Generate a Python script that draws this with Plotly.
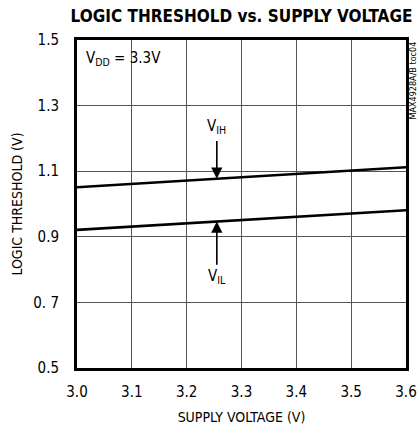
import numpy as np
import plotly.graph_objects as go

supply_v = [3.0, 3.6]
vih = [1.051, 1.112]
vil = [0.921, 0.981]
x_ticks = [3.0, 3.1, 3.2, 3.3, 3.4, 3.5, 3.6]
y_ticks = [0.5, 0.7, 0.9, 1.1, 1.3, 1.5]
y_tick_labels = ["0.5", "0. 7", "0.9", "1.1", "1.3", "1.5"]

FONT = "DejaVu Sans Condensed, Roboto, sans-serif"

fig = go.Figure()
fig.add_trace(go.Scatter(x=supply_v, y=vih, mode="lines",
                         line=dict(color="black", width=2.6), showlegend=False))
fig.add_trace(go.Scatter(x=supply_v, y=vil, mode="lines",
                         line=dict(color="black", width=2.6), showlegend=False))

arrow_x = 3.255
tip_ih = float(np.interp(arrow_x, supply_v, vih))
tip_il = float(np.interp(arrow_x, supply_v, vil))

annotations = [
    dict(x=arrow_x, y=tip_ih, xref="x", yref="y", ax=arrow_x, ay=1.197,
         axref="x", ayref="y", text="", showarrow=True, arrowhead=2,
         arrowsize=1.4, arrowwidth=1.6, arrowcolor="black", standoff=0),
    dict(x=arrow_x, y=1.235, xref="x", yref="y", text="V<sub>IH</sub>",
         showarrow=False, font=dict(family=FONT, size=15, color="black")),
    dict(x=arrow_x, y=tip_il, xref="x", yref="y", ax=arrow_x, ay=0.81,
         axref="x", ayref="y", text="", showarrow=True, arrowhead=2,
         arrowsize=1.4, arrowwidth=1.6, arrowcolor="black", standoff=0),
    dict(x=arrow_x, y=0.78, xref="x", yref="y", text="V<sub>IL</sub>",
         showarrow=False, font=dict(family=FONT, size=15, color="black")),
    dict(x=0.02, y=0.945, xref="paper", yref="paper", xanchor="left",
         yanchor="middle", text="V<sub>DD</sub> = 3.3V", showarrow=False,
         font=dict(family=FONT, size=15, color="black")),
    dict(x=1.02, y=1.0, xref="paper", yref="paper", xanchor="center",
         yanchor="top", text="MAX4928A/B toc04", textangle=-90,
         showarrow=False, font=dict(family=FONT, size=9, color="black")),
]

fig.update_layout(
    width=420, height=430,
    margin=dict(l=77, r=14, t=40, b=62),
    paper_bgcolor="white", plot_bgcolor="white",
    title=dict(text="<b>LOGIC THRESHOLD vs. SUPPLY VOLTAGE</b>",
               x=0.575, xanchor="center", y=0.962, yanchor="middle",
               font=dict(family=FONT, size=17, color="black")),
    annotations=annotations,
    xaxis=dict(range=[3.0, 3.6], tickvals=x_ticks,
               ticktext=[f"{v:.1f}" for v in x_ticks],
               showgrid=True, gridcolor="#555", gridwidth=1,
               showline=True, linecolor="black", linewidth=3, mirror=True,
               ticks="outside", ticklen=8, tickcolor="rgba(0,0,0,0)",
               zeroline=False, automargin=False,
               tickfont=dict(family=FONT, size=15, color="black"),
               title=dict(text="SUPPLY VOLTAGE (V)", standoff=13,
                          font=dict(family=FONT, size=14, color="black"))),
    yaxis=dict(range=[0.5, 1.5], tickvals=y_ticks, ticktext=y_tick_labels,
               showgrid=True, gridcolor="#555", gridwidth=1,
               showline=True, linecolor="black", linewidth=3, mirror=True,
               ticks="outside", ticklen=12, tickcolor="rgba(0,0,0,0)",
               zeroline=False, automargin=False,
               tickfont=dict(family=FONT, size=15, color="black"),
               title=dict(text="LOGIC THRESHOLD (V)", standoff=8,
                          font=dict(family=FONT, size=14, color="black"))),
)

fig.write_html(
    "out.html",
    config={"displayModeBar": False},
    post_script="document.body.style.margin='0';document.body.style.overflow='hidden';",
)
